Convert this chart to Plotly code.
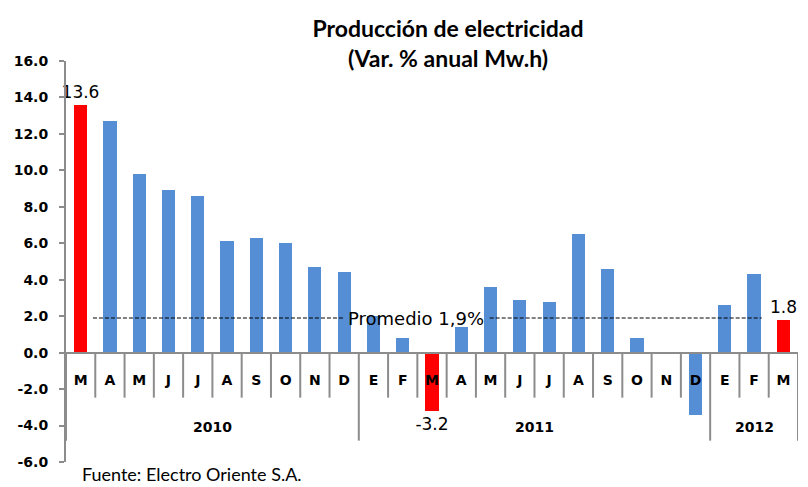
import plotly.graph_objects as go

# ---- data ----
months = ["M", "A", "M", "J", "J", "A", "S", "O", "N", "D",
          "E", "F", "M", "A", "M", "J", "J", "A", "S", "O", "N", "D",
          "E", "F", "M"]
years = ["2010"] * 10 + ["2011"] * 12 + ["2012"] * 3
values = [13.6, 12.7, 9.8, 8.9, 8.6, 6.1, 6.3, 6.0, 4.7, 4.4,
          2.0, 0.8, -3.2, 1.4, 3.6, 2.9, 2.8, 6.5, 4.6, 0.8, -0.1, -3.4,
          2.6, 4.3, 1.8]
highlight = [0, 12, 24]
average = 1.9
avg_label = "Promedio 1,9%"
y_ticks = [-6, -4, -2, 0, 2, 4, 6, 8, 10, 12, 14, 16]
title_text = "Producción de electricidad<br>(Var. % anual Mw.h)"
source_text = "Fuente: Electro Oriente S.A."

# ---- styles ----
BLUE = "#558ED5"
RED = "#FF0000"
GRAY = "#8C8C8C"
y_min, y_max = -6, 16
plot_h = 401
px_per_unit = plot_h / (y_max - y_min)

idx = list(range(len(months)))
colors = [RED if i in highlight else BLUE for i in idx]
texts = [f"{values[i]:.1f}" if i in highlight else "" for i in idx]

fig = go.Figure()
fig.add_trace(go.Bar(
    x=idx, y=values, marker=dict(color=colors, line=dict(width=0)),
    width=0.45, text=texts, textposition="outside", constraintext="none",
    cliponaxis=False, textfont=dict(family="DejaVu Sans", size=17, color="black"),
    hoverinfo="skip", showlegend=False,
))

shapes = []
annotations = []
short_len = -45 / px_per_unit
long_len = -88 / px_per_unit
year_y = -74 / px_per_unit

year_order = []
for y in years:
    if y not in year_order:
        year_order.append(y)
bounds = set()
for yr in year_order:
    members = [i for i in idx if years[i] == yr]
    s, e = members[0], members[-1]
    bounds.add(s - 0.5)
    bounds.add(e + 0.5)
    annotations.append(dict(x=(s + e) / 2, y=year_y, xref="x", yref="y",
                            text=f"<b>{yr}</b>", showarrow=False,
                            font=dict(family="DejaVu Sans", size=14, color="black"),
                            xanchor="center", yanchor="middle"))
for i in idx[1:]:
    b = i - 0.5
    if b not in bounds:
        shapes.append(dict(type="line", xref="x", yref="y", x0=b, x1=b, y0=0, y1=short_len,
                           line=dict(color=GRAY, width=2), layer="below"))
for b in sorted(bounds):
    shapes.append(dict(type="line", xref="x", yref="y", x0=b, x1=b, y0=0, y1=long_len,
                       line=dict(color=GRAY, width=2), layer="below"))

# average line (two segments around its label)
for x0, x1 in [(0.42, 8.96), (13.97, 23.26)]:
    shapes.append(dict(type="line", xref="x", yref="y", x0=x0, x1=x1, y0=average, y1=average,
                       line=dict(color="black", width=1, dash="4px,2px")))
annotations.append(dict(x=11.45, y=average, xref="x", yref="y", text=avg_label, showarrow=False,
                        font=dict(family="DejaVu Sans", size=18, color="black"),
                        xanchor="center", yanchor="middle"))
annotations.append(dict(x=14 / 732, y=-25 / plot_h, xref="paper", yref="paper", text=source_text,
                        showarrow=False, font=dict(family="Lato", size=18, color="black"),
                        xanchor="left", yanchor="bottom"))

fig.update_layout(
    width=808, height=487,
    margin=dict(l=66, r=10, t=61, b=25, autoexpand=False),
    paper_bgcolor="white", plot_bgcolor="white",
    title=dict(text=f"<b>{title_text}</b>", x=448 / 808, xanchor="center",
               y=1 - 37 / 487, yanchor="middle", yref="container",
               font=dict(family="Lato", size=23, color="black")),
    shapes=shapes, annotations=annotations,
    bargap=0,
)
fig.update_xaxes(
    range=[-0.5, len(months) - 0.5], tickmode="array", tickvals=idx,
    ticktext=[f"<b>{m}</b>" for m in months],
    anchor="free", position=(0 - y_min) / (y_max - y_min),
    showline=True, linecolor=GRAY, linewidth=2, ticks="", showgrid=False, zeroline=False,
    tickfont=dict(family="DejaVu Sans", size=14, color="black"), ticklabelstandoff=15,
)
fig.update_yaxes(
    range=[y_min, y_max], tickmode="array", tickvals=y_ticks,
    ticktext=[f"<b>{v:.1f}</b>" for v in y_ticks],
    showline=True, linecolor=GRAY, linewidth=2, ticks="outside", ticklen=5, tickcolor=GRAY,
    tickwidth=2, showgrid=False, zeroline=False, ticklabelstandoff=8,
    tickfont=dict(family="DejaVu Sans", size=14, color="black"),
)

fig.write_html("out.html", config={"displayModeBar": False},
               post_script="document.body.style.margin='0';document.body.style.overflow='hidden';")
